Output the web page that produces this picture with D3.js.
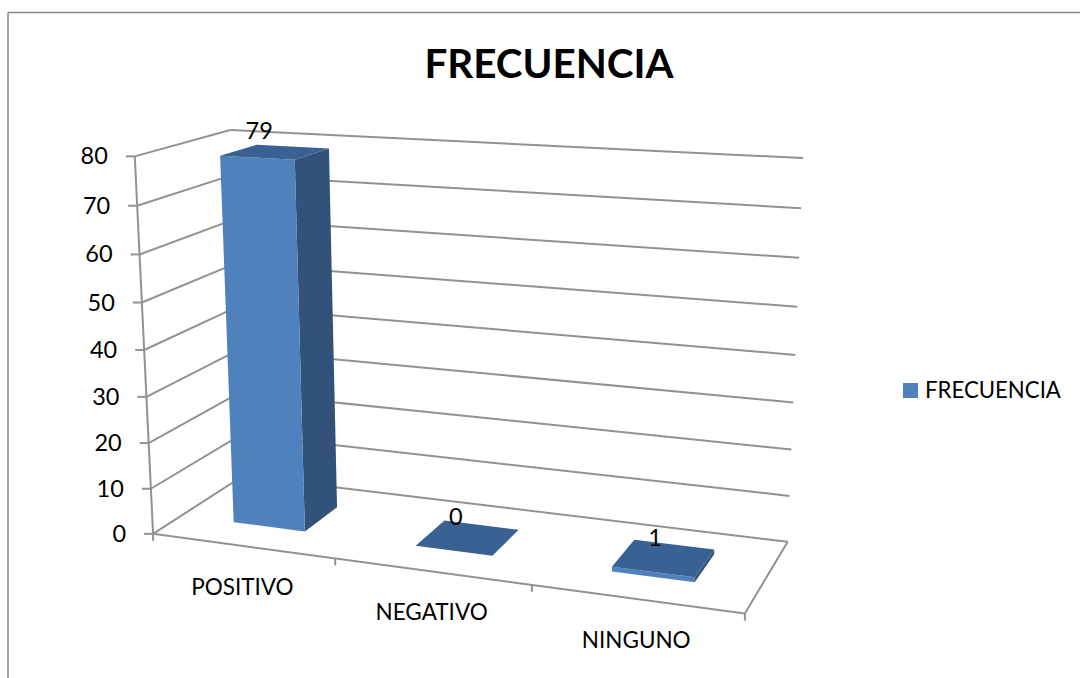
<!DOCTYPE html>
<html>
<head>
<meta charset="utf-8">
<script src="https://cdn.jsdelivr.net/npm/d3@7"></script>
<style>
  html, body { margin: 0; padding: 0; background: #fff; }
  svg { display: block; }
  text { font-family: Lato, "Open Sans", sans-serif; fill: #000; }
</style>
</head>
<body>
<div id="vis"></div>
<script>
const chartTitle = "FRECUENCIA"
const seriesName = "FRECUENCIA"
const categories = ["POSITIVO", "NEGATIVO", "NINGUNO"]
const values = [79, 0, 1]
const valueTicks = [0, 10, 20, 30, 40, 50, 60, 70, 80]

const w = 1080, h = 678
const gridColor = "#929292"

// box scales: category across, value up, depth 0 (front) to 1 (back)
const x = d3.scaleBand().domain(categories).range([0, 1]).paddingInner(0.6).paddingOuter(0.3)
const xStep = d3.scaleLinear().domain([0, categories.length]).range([0, 1])
const y = d3.scaleLinear().domain([0, 80]).range([0, 1])
const barDepth = [0.3, 0.7]

// where known spots of the 3D box land on screen, used to fit the camera: [u, v, d, px, py]
const cameraFit = [
  [0, 0, 0, 153, 534], [0, 1, 0, 135, 157], [0, 0, 1, 243, 476], [0, 1, 1, 230, 130],
  [1, 0, 1, 787, 542], [1, 1, 1, 803, 158], [1, 0, 0, 745, 613], [1/3, 0, 0, 335, 559],
  [2/3, 0, 0, 532, 585], [1, 0.5, 1, 796, 355], [0, 0.5, 0, 144, 349]
]

function solve(A, b) {
  const n = b.length
  const m = A.map((r, i) => r.concat(b[i]))
  for (let i = 0; i < n; i++) {
    let p = i
    for (let k = i + 1; k < n; k++) if (Math.abs(m[k][i]) > Math.abs(m[p][i])) p = k
    ;[m[i], m[p]] = [m[p], m[i]]
    for (let k = 0; k < n; k++) {
      if (k == i) continue
      const f = m[k][i] / m[i][i]
      for (let j = i; j <= n; j++) m[k][j] -= f * m[i][j]
    }
  }
  return m.map((r, i) => r[n] / r[i])
}

// least squares projective camera, 11 unknowns
function fitCamera(points) {
  const rows = [], rhs = []
  points.forEach(([u, v, d, px, py]) => {
    const X = px / 1000, Y = py / 1000
    rows.push([u, v, d, 1, 0, 0, 0, 0, -X * u, -X * v, -X * d]); rhs.push(X)
    rows.push([0, 0, 0, 0, u, v, d, 1, -Y * u, -Y * v, -Y * d]); rhs.push(Y)
  })
  const ata = d3.range(11).map(i => d3.range(11).map(j => d3.sum(rows, r => r[i] * r[j])))
  const atb = d3.range(11).map(i => d3.sum(rows, (r, k) => r[i] * rhs[k]))
  return solve(ata, atb)
}

const cam = fitCamera(cameraFit)
function project(u, v, d) {
  const s = cam[8] * u + cam[9] * v + cam[10] * d + 1
  return [
    1000 * (cam[0] * u + cam[1] * v + cam[2] * d + cam[3]) / s,
    1000 * (cam[4] * u + cam[5] * v + cam[6] * d + cam[7]) / s
  ]
}

const svg = d3.select("#vis").append("svg").attr("width", w).attr("height", h)

function addLine(a, b, color = gridColor, width = 2) {
  svg.append("line")
    .attr("x1", a[0]).attr("y1", a[1]).attr("x2", b[0]).attr("y2", b[1])
    .attr("stroke", color).attr("stroke-width", width)
}

function addFace(corners, fill) {
  svg.append("path")
    .attr("d", d3.line()(corners) + "Z")
    .attr("fill", fill)
}

// outer frame, only top and left show
addLine([8, 12.5], [w, 12.5], "#868686", 1.5)
addLine([8, 12.5], [8, h], "#868686", 1.5)

svg.append("text")
  .attr("x", 549).attr("y", 78)
  .attr("text-anchor", "middle")
  .attr("font-size", 40.4).attr("font-weight", 700)
  .text(chartTitle)

// walls
valueTicks.forEach(t => {
  const v = y(t)
  addLine(project(0, v, 0), project(0, v, 1))
  addLine(project(0, v, 1), project(1, v, 1))
  const p = project(0, v, 0)
  addLine([p[0] - 9, p[1]], p)
  svg.append("text")
    .attr("x", p[0] - 27).attr("y", p[1] + 8)
    .attr("text-anchor", "end")
    .attr("font-size", 23.5)
    .text(t)
})

// value axis and floor edges
addLine(project(0, 0, 0), project(0, 1, 0))
addLine(project(0, 0, 0), project(1, 0, 0))
addLine(project(1, 0, 0), project(1, 0, 1))

d3.range(categories.length + 1).forEach(i => {
  const p = project(xStep(i), 0, 0)
  addLine(p, [p[0], p[1] + 7])
})

// bars
categories.forEach((c, i) => {
  const u0 = x(c), u1 = x(c) + x.bandwidth()
  const [d0, d1] = barDepth
  const v = y(values[i])
  addFace([project(u1, 0, d0), project(u1, 0, d1), project(u1, v, d1), project(u1, v, d0)], "#32527a")
  addFace([project(u0, 0, d0), project(u1, 0, d0), project(u1, v, d0), project(u0, v, d0)], "#4f81bd")
  addFace([project(u0, v, d0), project(u1, v, d0), project(u1, v, d1), project(u0, v, d1)], "#3a6194")
})

// data labels sit above the middle of the front face
const labelLift = [27, 34, 34]
categories.forEach((c, i) => {
  const p = project(x(c) + x.bandwidth() / 2, y(values[i]), barDepth[0])
  svg.append("text")
    .attr("x", p[0] + 2).attr("y", p[1] - labelLift[i] + 8)
    .attr("text-anchor", "middle")
    .attr("font-size", 23.5)
    .text(values[i])
})

categories.forEach(c => {
  const p = project(x(c) + x.bandwidth() / 2, 0, 0)
  svg.append("text")
    .attr("x", p[0]).attr("y", p[1] + 49)
    .attr("text-anchor", "middle")
    .attr("font-size", 22.5)
    .text(c)
})

// legend
svg.append("rect").attr("x", 903).attr("y", 383).attr("width", 15).attr("height", 15).attr("fill", "#4f81bd")
svg.append("text").attr("x", 925).attr("y", 398).attr("font-size", 22.2).text(seriesName)
</script>
</body>
</html>
